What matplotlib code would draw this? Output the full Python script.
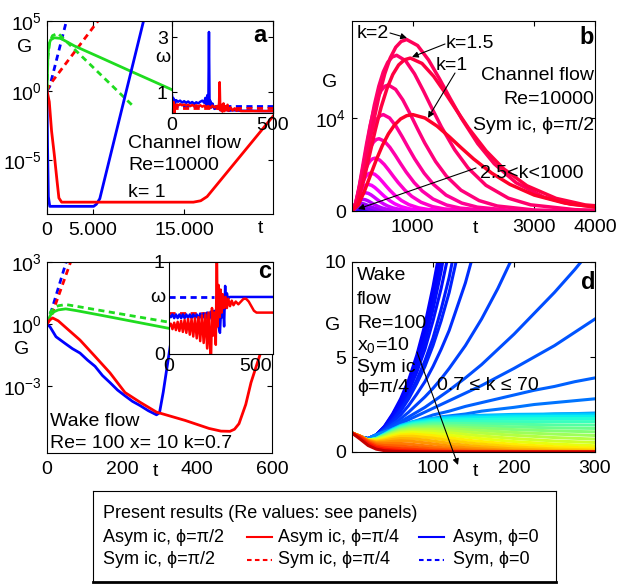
"""Transient growth G(t) for channel and wake flows, four panels plus shared legend."""
import numpy as np
import matplotlib

matplotlib.use("Agg")
from matplotlib import pyplot as plt
from matplotlib import rcParams
from matplotlib import colormaps
from matplotlib.patches import FancyArrowPatch

rcParams["font.family"] = ["Liberation Sans", "DejaVu Sans"]
rcParams["mathtext.fontset"] = "custom"
rcParams["mathtext.rm"] = "Liberation Sans"
rcParams["mathtext.it"] = "Liberation Sans:italic"
rcParams["font.size"] = 14
rcParams["xtick.direction"] = "in"
rcParams["ytick.direction"] = "in"
rcParams["xtick.top"] = True
rcParams["ytick.right"] = True
rcParams["xtick.major.pad"] = 6
rcParams["ytick.major.pad"] = 4

GREEN, RED, BLUE = "#1fdc1f", "#ff0000", "#0000ff"
DASH = (0, (2.2, 1.6))

# ---------------- panel a: channel flow, Re=10000, k=1 (log10 G) ----------------
T_A_ASYM_PI2 = [0, 100, 200, 400, 800, 1500, 3000, 6000, 9000, 12000, 15000, 18000]
LG_A_ASYM_PI2 = [0, 2.5, 3.3, 3.65, 3.8, 3.75, 3.21, 2.33, 1.44, 0.56, -0.33, -1.2]
T_A_SYM_PI2 = [0, 100, 300, 600, 1200, 3000, 5000, 7000, 9400]
LG_A_SYM_PI2 = [0, 2.4, 3.5, 3.95, 4.12, 2.97, 1.7, 0.43, -1.1]
T_A_ASYM_PI4 = [0, 250, 500, 800, 1100, 1300, 1600, 16000, 16800, 17500, 18500, 25000]
LG_A_ASYM_PI4 = [0, -0.8, -2.9, -4.6, -6.5, -7.7, -8.0, -8.0, -7.9, -7.6, -6.8, -1.6]
T_A_SYM_PI4 = [0, 275, 5800]
LG_A_SYM_PI4 = [0, 0.4, 5.2]
T_A_ASYM_0 = [0, 60, 150, 300, 5100, 5400, 5770, 10700]
LG_A_ASYM_0 = [0, -4.0, -7.6, -8.3, -8.3, -8.15, -7.75, 5.4]
T_A_SYM_0 = [0, 300, 2200]
LG_A_SYM_0 = [0, 0.3, 5.2]

# inset a: frequency omega(t)
T_WA_ASYM_0 = [0, 3, 6, 9, 12, 15, 20, 30, 40, 50, 60, 70, 80, 90, 100, 110, 120, 130,
               140, 150, 160, 165, 170, 175, 180, 183, 186, 189, 195, 200, 210, 220, 240,
               260, 280, 300, 350, 400, 450, 500]
W_WA_ASYM_0 = [0.9, 0.45, 0.8, 0.5, 0.7, 0.6, 0.72, 0.66, 0.7, 0.63, 0.68, 0.62, 0.67, 0.6,
               0.65, 0.58, 0.64, 0.6, 0.66, 0.7, 0.62, 0.8, 0.55, 0.9, 0.6, 3.2, 0.5, 0.7,
               0.45, 0.6, 0.4, 0.5, 0.35, 0.4, 0.33, 0.35, 0.33, 0.33, 0.32, 0.32]
T_WA_ASYM_PI4 = [0, 4, 8, 12, 16, 20, 25, 30, 40, 50, 60, 70, 80, 90, 100, 110, 120, 130,
                 140, 150, 160, 170, 180, 190, 200, 210, 220, 228, 233, 236, 239, 243, 250,
                 255, 260, 265, 270, 275, 280, 290, 300, 310, 320, 330, 340, 360, 400, 450, 500]
W_WA_ASYM_PI4 = [0.55, 0.3, 0.65, 0.25, 0.55, 0.5, 0.56, 0.52, 0.57, 0.53, 0.56, 0.52, 0.55,
                 0.5, 0.54, 0.5, 0.53, 0.49, 0.53, 0.48, 0.52, 0.47, 0.5, 0.44, 0.52, 0.45,
                 0.5, 0.4, 0.6, 1.37, 0.35, 0.55, 0.3, 0.6, 0.32, 0.5, 0.35, 0.55, 0.33, 0.45,
                 0.34, 0.42, 0.33, 0.38, 0.32, 0.32, 0.32, 0.32, 0.32]
T_WA_SYM = [0, 500]
W_WA_SYM_0 = [0.5, 0.5]
W_WA_SYM_PI4 = [0.42, 0.42]

# ---------------- panel b: Sym ic, phi=pi/2, family of k ----------------
S_TMPL = [0, 0.1, 0.2, 0.3, 0.4, 0.5, 0.6, 0.7, 0.8, 0.9, 1.0, 1.2, 1.4, 1.6, 1.8, 2.0,
          2.3, 2.6, 3.0, 3.5, 4.0, 5.0, 6.0, 8.0]
G_TMPL = [0, 0.0605, 0.198, 0.365, 0.531, 0.680, 0.801, 0.893, 0.955, 0.989, 1.0, 0.965,
          0.881, 0.771, 0.654, 0.541, 0.393, 0.276, 0.165, 0.0825, 0.0397, 0.0084,
          0.0016, 0.00005]
PEAK_T_B = [40, 50, 70, 90, 110, 132, 159, 187, 225, 269, 313, 379, 445, 516, 598, 735,
            900, 960, 1000]
PEAK_G_B = [8, 20, 50, 110, 230, 430, 800, 1250, 1970, 2870, 4100, 5700, 7800, 10400,
            13600, 16800, 18500, 16500, 10400]
HUE_B = [0.36, 0.48, 0.58, 0.66, 0.72, 0.76, 0.78, 0.80, 0.82, 0.84, 0.86, 0.88, 0.90,
         0.915, 0.93, 0.945, 0.955, 0.97, 0.985]

# ---------------- panel c: wake flow, Re=100, x=10, k=0.7 (log10 G) ----------------
T_C_ASYM_PI2 = [0, 5, 10, 20, 30, 50, 80, 150, 250, 330, 450, 600]
LG_C_ASYM_PI2 = [0, 0.25, 0.45, 0.6, 0.68, 0.73, 0.64, 0.4, 0.05, -0.23, -0.65, -1.17]
T_C_SYM_PI2 = [0, 5, 10, 20, 30, 50, 80, 150, 250, 330, 450, 600]
LG_C_SYM_PI2 = [0, 0.35, 0.6, 0.8, 0.88, 0.94, 0.85, 0.63, 0.32, 0.07, -0.3, -0.77]
T_C_ASYM_PI4 = [0, 8, 15, 30, 48, 88, 128, 168, 208, 248, 292, 368, 432, 464, 488, 500,
                512, 530, 544, 568, 590]
LG_C_ASYM_PI4 = [0, 0.2, 0.29, 0.15, -0.14, -0.78, -1.57, -2.37, -3.32, -3.79, -4.27,
                 -4.67, -5.06, -5.19, -5.2, -5.1, -4.83, -3.9, -2.84, -1.49, -0.2]
T_C_SYM_PI4 = [0, 12, 64]
LG_C_SYM_PI4 = [0, 0.41, 3.05]
T_C_ASYM_0 = [0, 8, 24, 48, 68, 88, 108, 128, 148, 168, 188, 208, 228, 248, 270, 292,
              300, 310, 320, 330, 345]
LG_C_ASYM_0 = [0, -0.14, -0.62, -0.94, -1.2, -1.41, -1.75, -2.05, -2.5, -2.84, -3.2,
               -3.48, -3.75, -3.95, -4.2, -4.4, -4.3, -3.3, -2.1, -0.9, 0.8]
T_C_SYM_0 = [0, 8, 52]
LG_C_SYM_0 = [0, 0.41, 3.05]

# inset c: frequency omega(t)
T_WC_ASYM_0 = [0, 10, 20, 30, 40, 50, 60, 70, 80, 90, 100, 110, 120, 130, 140, 150, 160,
               170, 180, 190, 200, 210, 220, 230, 240, 250, 260, 270, 280, 288, 294, 300,
               306, 312, 318, 324, 328, 334, 340, 350, 600]
W_WC_ASYM_0 = [0.42, 0.4, 0.43, 0.39, 0.43, 0.39, 0.43, 0.39, 0.43, 0.39, 0.43, 0.39, 0.43,
               0.39, 0.43, 0.39, 0.43, 0.38, 0.44, 0.38, 0.44, 0.38, 0.45, 0.37, 0.46, 0.36,
               0.47, 0.35, 0.5, 0.28, 0.23, 0.48, 0.4, 0.52, 0.3, 0.74, 0.5, 0.66, 0.6,
               0.62, 0.62]
T_WC_ASYM_PI4 = [0, 10, 20, 30, 40, 50, 60, 70, 80, 90, 100, 110, 120, 130, 140, 150, 160,
                 170, 180, 190, 200, 210, 220, 228, 236, 242, 248, 254, 262, 270, 276, 280,
                 286, 292, 298, 304, 310, 318, 326, 334, 342, 352, 362, 372, 385, 400, 415,
                 430, 445, 460, 475, 490, 505, 520, 600]
W_WC_ASYM_PI4 = [0.3, 0.33, 0.27, 0.34, 0.26, 0.35, 0.25, 0.36, 0.24, 0.37, 0.23, 0.38,
                 0.21, 0.38, 0.19, 0.39, 0.17, 0.4, 0.14, 0.42, 0.12, 0.43, 0.06, 0.45, 0.1,
                 -0.1, 0.5, 0.2, 0.45, 0.1, 1.2, 0.3, 0.75, 0.4, 0.7, 0.45, 0.65, 0.5, 0.62,
                 0.5, 0.6, 0.52, 0.58, 0.53, 0.57, 0.54, 0.57, 0.6, 0.6, 0.57, 0.52, 0.47,
                 0.45, 0.45, 0.45]
T_WC_SYM_0 = [0, 262]
W_WC_SYM_0 = [0.62, 0.62]
T_WC_SYM_PI4 = [0, 235]
W_WC_SYM_PI4 = [0.45, 0.45]

# ---------------- panel d: wake flow, Sym ic, phi=pi/4, 0.7<=k<=70 ----------------
T_D_GROW = [0, 10, 20, 30, 40, 50, 60, 70, 80, 90, 100, 110, 120, 140, 160, 180, 200,
            225, 250, 275, 300]
G_D_GROW = [
    [1.0, 0.8, 0.7, 0.9, 1.35, 2.0, 2.8, 3.8, 5.1, 6.7, 8.7, 11.0],
    [1.0, 0.8, 0.7, 0.9, 1.33, 1.95, 2.7, 3.7, 4.9, 6.4, 8.3, 10.5],
    [1.0, 0.8, 0.7, 0.9, 1.3, 1.9, 2.6, 3.5, 4.7, 6.1, 7.9, 10.0, 12.0],
    [1.0, 0.8, 0.7, 0.9, 1.3, 1.85, 2.5, 3.4, 4.5, 5.8, 7.5, 9.5, 12.0],
    [1.0, 0.8, 0.7, 0.9, 1.28, 1.8, 2.4, 3.2, 4.2, 5.4, 6.9, 8.6, 10.6],
    [1.0, 0.8, 0.7, 0.9, 1.25, 1.7, 2.25, 2.95, 3.8, 4.8, 6.0, 7.5, 9.2, 13.5],
    [1.0, 0.8, 0.7, 0.9, 1.22, 1.65, 2.15, 2.8, 3.6, 4.5, 5.6, 6.9, 8.4, 12.2],
    [1.0, 0.8, 0.7, 0.9, 1.2, 1.55, 1.95, 2.45, 3.05, 3.7, 4.5, 5.4, 6.4, 8.9, 12.0],
    [1.0, 0.8, 0.7, 0.9, 1.15, 1.45, 1.75, 2.1, 2.5, 2.9, 3.35, 3.85, 4.4, 5.6, 7.0, 8.6,
     10.4],
    [1.0, 0.8, 0.7, 0.9, 1.1, 1.35, 1.6, 1.85, 2.1, 2.35, 2.65, 2.95, 3.25, 3.9, 4.6, 5.4,
     6.2, 7.3, 8.4, 9.6, 10.9],
    [1.0, 0.8, 0.7, 0.9, 1.1, 1.3, 1.5, 1.7, 1.9, 2.1, 2.3, 2.5, 2.7, 3.1, 3.5, 3.95, 4.4,
     5.0, 5.6, 6.3, 7.0],
    [1.0, 0.8, 0.7, 0.9, 1.05, 1.2, 1.35, 1.5, 1.65, 1.8, 1.95, 2.05, 2.15, 2.4, 2.6, 2.8,
     3.0, 3.25, 3.45, 3.7, 3.9],
    [1.0, 0.8, 0.7, 0.9, 1.05, 1.2, 1.35, 1.45, 1.55, 1.65, 1.75, 1.85, 1.9, 2.0, 2.15,
     2.25, 2.35, 2.5, 2.6, 2.7, 2.8],
    [1.0, 0.8, 0.7, 0.9, 1.05, 1.2, 1.3, 1.4, 1.5, 1.55, 1.6, 1.65, 1.7, 1.75, 1.8, 1.85,
     1.9, 1.95, 2.0, 2.02, 2.05],
]
JET_D_GROW = [0.12, 0.125, 0.13, 0.135, 0.14, 0.15, 0.16, 0.17, 0.19, 0.2, 0.21, 0.22,
              0.24, 0.26]
T_D_BAND = [0, 10, 20, 30, 40, 50, 60, 75, 100, 125, 150, 200, 250, 300]
G_D_BAND = [
    [1.0, 0.78, 0.62, 0.72, 0.95, 1.2, 1.4, 1.6, 1.78, 1.86, 1.92, 1.98, 2.0, 2.02],
    [1.0, 0.78, 0.62, 0.72, 0.94, 1.18, 1.38, 1.57, 1.74, 1.82, 1.87, 1.93, 1.95, 1.96],
    [1.0, 0.78, 0.62, 0.71, 0.93, 1.16, 1.35, 1.53, 1.69, 1.76, 1.8, 1.85, 1.87, 1.88],
    [1.0, 0.79, 0.62, 0.71, 0.92, 1.14, 1.32, 1.49, 1.63, 1.68, 1.71, 1.74, 1.76, 1.76],
    [1.0, 0.79, 0.62, 0.7, 0.9, 1.11, 1.29, 1.44, 1.56, 1.59, 1.6, 1.6, 1.6, 1.6],
    [1.0, 0.8, 0.62, 0.7, 0.89, 1.09, 1.26, 1.4, 1.49, 1.5, 1.49, 1.46, 1.43, 1.42],
    [1.0, 0.8, 0.63, 0.69, 0.87, 1.06, 1.22, 1.35, 1.42, 1.41, 1.38, 1.32, 1.27, 1.24],
    [1.0, 0.8, 0.63, 0.68, 0.85, 1.03, 1.18, 1.3, 1.35, 1.32, 1.27, 1.18, 1.11, 1.06],
    [1.0, 0.81, 0.63, 0.67, 0.83, 1.0, 1.14, 1.24, 1.27, 1.22, 1.15, 1.03, 0.94, 0.87],
    [1.0, 0.81, 0.63, 0.66, 0.8, 0.96, 1.09, 1.18, 1.18, 1.11, 1.02, 0.88, 0.76, 0.68],
    [1.0, 0.82, 0.63, 0.64, 0.77, 0.92, 1.04, 1.11, 1.09, 0.99, 0.88, 0.71, 0.58, 0.5],
    [1.0, 0.82, 0.63, 0.62, 0.73, 0.87, 0.98, 1.03, 0.98, 0.86, 0.74, 0.55, 0.42, 0.33],
    [1.0, 0.83, 0.62, 0.6, 0.69, 0.81, 0.9, 0.94, 0.86, 0.72, 0.59, 0.4, 0.28, 0.2],
    [1.0, 0.83, 0.62, 0.57, 0.64, 0.74, 0.82, 0.83, 0.73, 0.58, 0.45, 0.27, 0.16, 0.1],
    [1.0, 0.84, 0.61, 0.53, 0.58, 0.66, 0.71, 0.7, 0.58, 0.43, 0.31, 0.16, 0.08, 0.04],
    [1.0, 0.84, 0.6, 0.49, 0.51, 0.56, 0.59, 0.56, 0.43, 0.29, 0.19, 0.07, 0.03, 0.01],
    [1.0, 0.84, 0.58, 0.44, 0.43, 0.45, 0.45, 0.4, 0.28, 0.17, 0.1, 0.03, 0.01, 0.0],
    [1.0, 0.83, 0.55, 0.38, 0.34, 0.33, 0.31, 0.26, 0.16, 0.09, 0.04, 0.01, 0.0, 0.0],
    [1.0, 0.8, 0.5, 0.31, 0.24, 0.21, 0.18, 0.14, 0.07, 0.03, 0.01, 0.0, 0.0, 0.0],
    [1.0, 0.75, 0.43, 0.23, 0.15, 0.11, 0.08, 0.05, 0.02, 0.01, 0.0, 0.0, 0.0, 0.0],
    [1.0, 0.68, 0.34, 0.15, 0.07, 0.04, 0.02, 0.01, 0.0, 0.0, 0.0, 0.0, 0.0, 0.0],
]
JET_D_BAND = [0.3, 0.33, 0.36, 0.39, 0.42, 0.45, 0.48, 0.51, 0.54, 0.57, 0.6, 0.63, 0.66,
              0.69, 0.72, 0.75, 0.78, 0.81, 0.85, 0.89, 0.94]

# legend entries: (label, colour, style)
LEGEND_TITLE = "Present results (Re values: see panels)"
LEGEND_ROWS = [
    [("Asym ic, ϕ=π/2", GREEN, "-"), ("Asym ic, ϕ=π/4", RED, "-"), ("Asym, ϕ=0", BLUE, "-")],
    [("Sym ic, ϕ=π/2", GREEN, DASH), ("Sym ic, ϕ=π/4", RED, DASH), ("Sym, ϕ=0", BLUE, DASH)],
]

# ---------------- layout helpers (pixel boxes of the 618x585 figure) ----------------
W, H = 618, 585


def box(x0, y0, x1, y1):
    return [x0 / W, 1 - y1 / H, (x1 - x0) / W, (y1 - y0) / H]


def fxy(x, y):
    return x / W, 1 - y / H


def label(x, y, s, **kw):
    kw.setdefault("ha", "center")
    kw.setdefault("va", "center")
    fig.text(*fxy(x, y), s, **kw)


def bold(x, y, s):
    label(x, y, s, fontsize=17, fontweight="bold")


def arrow(tail, tip):
    fig.add_artist(FancyArrowPatch(
        fxy(*tail), fxy(*tip), transform=fig.transFigure, arrowstyle="-|>", color="k",
        lw=0.8, mutation_scale=9, shrinkA=0, shrinkB=0))


def logplot(ax, t, lg, color, ls="-", lw=2):
    ax.plot(t, 10.0 ** np.array(lg), color=color, ls=ls, lw=lw)


fig = plt.figure(figsize=(W / 100, H / 100), dpi=100)
hsv = colormaps["hsv"]
jet = colormaps["jet"]

# panel a
axa = fig.add_axes(box(47, 21, 273, 214))
axa.set_yscale("log")
logplot(axa, T_A_SYM_0, LG_A_SYM_0, BLUE, DASH)
logplot(axa, T_A_SYM_PI4, LG_A_SYM_PI4, RED, DASH)
logplot(axa, T_A_SYM_PI2, LG_A_SYM_PI2, GREEN, DASH)
logplot(axa, T_A_ASYM_PI2, LG_A_ASYM_PI2, GREEN)
logplot(axa, T_A_ASYM_0, LG_A_ASYM_0, BLUE)
logplot(axa, T_A_ASYM_PI4, LG_A_ASYM_PI4, RED)
axa.set_xlim(0, 24700)
axa.set_ylim(10 ** -8.85, 1e5)
axa.set_xticks([0, 5000, 15000], ["0", "5.000", "15.000"])
axa.set_yticks([1e-5, 1, 1e5])
axa.minorticks_off()
for s, y in (("Channel flow", 143), ("Re=10000", 166), ("k= 1", 193)):
    label(128, y, s, ha="left")
label(25, 47, "G")
label(260, 229, "t")

axia = fig.add_axes(box(172, 21, 273, 113))
axia.plot(T_WA_SYM, W_WA_SYM_0, color=BLUE, ls=DASH, lw=2)
axia.plot(T_WA_SYM, W_WA_SYM_PI4, color=RED, ls=DASH, lw=2)
axia.plot(T_WA_ASYM_0, W_WA_ASYM_0, color=BLUE, lw=1.8)
axia.plot(T_WA_ASYM_PI4, W_WA_ASYM_PI4, color=RED, lw=1.8)
axia.set_xlim(0, 500)
axia.set_ylim(0.25, 3.6)
axia.set_xticks([0, 500])
axia.set_yticks([1, 3])
axia.tick_params(pad=3)
label(163, 58, "ω")
bold(260, 35, "a")

# panel b
axb = fig.add_axes(box(352, 21, 595, 211))
for tp, gp, hue in zip(PEAK_T_B, PEAK_G_B, HUE_B):
    axb.plot(np.array(S_TMPL) * tp, np.array(G_TMPL) * gp, color=hsv(hue), lw=2.5)
axb.set_xlim(0, 4000)
axb.set_ylim(0, 20500)
axb.set_xticks([1000, 3000, 4000])
axb.set_yticks([0, 10000], ["0", r"$10^4$"])
label(330, 83, "G")
label(475, 229, "t")
for s, y in (("Channel flow", 76), ("Re=10000", 99), ("Sym ic, ϕ=π/2", 125)):
    label(594, y, s, ha="right")
for s, xy, tail, tip in (
    ("k=2", (373, 33), (390, 33), (407, 38)),
    ("k=1.5", (470, 43), (445, 44), (412, 57)),
    ("k=1", (452, 65), (455, 73), (428, 118)),
    ("2.5<k<1000", (532, 173), (476, 168), (358, 209)),
):
    label(*xy, s)
    arrow(tail, tip)
bold(587, 37, "b")

# panel c
axc = fig.add_axes(box(47, 262, 272, 453))
axc.set_yscale("log")
logplot(axc, T_C_SYM_0, LG_C_SYM_0, BLUE, DASH)
logplot(axc, T_C_SYM_PI4, LG_C_SYM_PI4, RED, DASH)
logplot(axc, T_C_SYM_PI2, LG_C_SYM_PI2, GREEN, DASH)
logplot(axc, T_C_ASYM_PI2, LG_C_ASYM_PI2, GREEN)
logplot(axc, T_C_ASYM_0, LG_C_ASYM_0, BLUE)
logplot(axc, T_C_ASYM_PI4, LG_C_ASYM_PI4, RED)
axc.set_xlim(0, 600)
axc.set_ylim(10 ** -6.25, 1e3)
axc.set_xticks([0, 200, 400, 600])
axc.set_yticks([1e-3, 1, 1e3])
axc.minorticks_off()
axc.tick_params(axis="x", length=0)
label(22, 350, "G")
label(155, 472, "t")
label(50, 422, "Wake flow", ha="left")
label(50, 443, "Re= 100 x= 10 k=0.7", ha="left")

axic = fig.add_axes(box(169, 262, 273, 354))
axic.plot(T_WC_SYM_0, W_WC_SYM_0, color=BLUE, ls=DASH, lw=2)
axic.plot(T_WC_SYM_PI4, W_WC_SYM_PI4, color=RED, ls=DASH, lw=2)
axic.plot(T_WC_ASYM_0, W_WC_ASYM_0, color=BLUE, lw=1.8)
axic.plot(T_WC_ASYM_PI4, W_WC_ASYM_PI4, color=RED, lw=1.8)
axic.set_xlim(0, 600)
axic.set_ylim(0, 1)
axic.set_xticks([0, 500])
axic.set_yticks([0, 1])
axic.tick_params(pad=3, length=0)
label(158, 297, "ω")
bold(265, 272, "c")

# panel d
axd = fig.add_axes(box(352, 262, 595, 452))
for row, c in zip(G_D_GROW, JET_D_GROW):
    axd.plot(T_D_GROW[:len(row)], row, color=jet(c), lw=2.2)
for row, c in zip(G_D_BAND, JET_D_BAND):
    axd.plot(T_D_BAND, row, color=jet(c), lw=2.2)
axd.set_xlim(0, 300)
axd.set_ylim(0, 10)
axd.set_xticks([100, 200, 300])
axd.set_yticks([0, 5, 10])
label(333, 325, "G")
label(475, 471, "t")
for s, y in (("Wake", 275), ("flow", 300), ("Re=100", 323), (r"x$_0$=10", 345),
             ("Sym ic", 367), ("ϕ=π/4", 388)):
    label(357, y, s, ha="left")
label(437, 385, "0.7 ≤ k ≤ 70", ha="left")
arrow((417, 352), (458, 465))
bold(588, 282, "d")

# shared legend box
axl = fig.add_axes(box(93, 491, 556, 582))
axl.set_xticks([])
axl.set_yticks([])
axl.spines["bottom"].set_linewidth(2)
LEG_FS = 13
fig.text(*fxy(103, 513), LEGEND_TITLE, fontsize=LEG_FS, va="center")
col_x = [(None, 103), (247, 278), (419, 453)]
for row, y in zip(LEGEND_ROWS, (537, 560)):
    for (text, color, ls), (hx, tx) in zip(row, col_x):
        if hx is not None:
            fig.add_artist(plt.Line2D([hx / W, (hx + 25) / W], [1 - y / H] * 2,
                                      color=color, ls=ls, lw=1.5))
        fig.text(*fxy(tx, y), text, fontsize=LEG_FS, va="center")

fig.savefig("out.png", dpi=100)
